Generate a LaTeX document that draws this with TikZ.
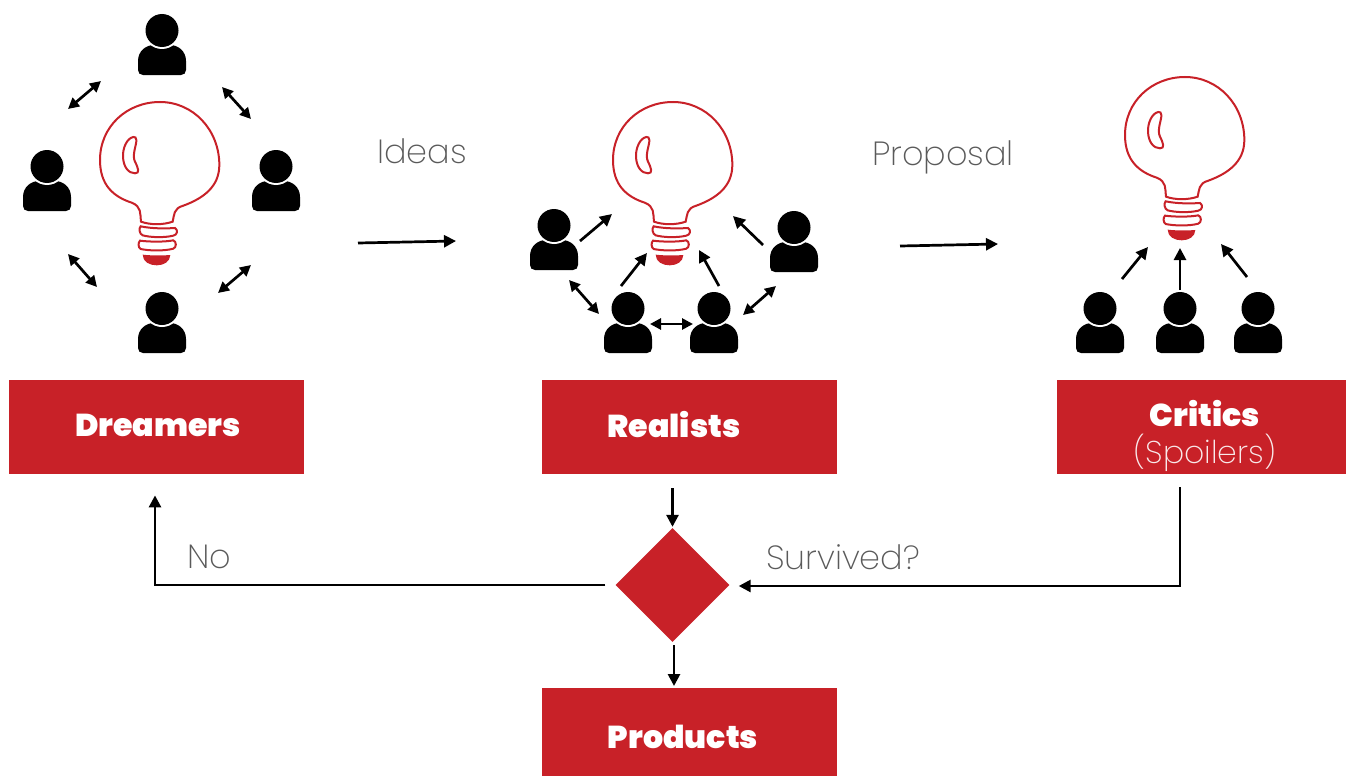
\documentclass[tikz,border=0pt]{standalone}
\usepackage{fontspec}
\usetikzlibrary{arrows.meta,shapes.geometric}
\newfontfamily\heavyfont{Poppins Black}
\newfontfamily\thinfont{Poppins ExtraLight}
\definecolor{brandred}{HTML}{C82128}
\definecolor{thingray}{HTML}{5A5A5A}
\tikzset{
  x=1pt,y=-1pt,
  redbox/.style={fill=brandred,draw=none,inner sep=0,minimum width=295pt,minimum height=94pt,anchor=north west},
  boxtitle/.style={text=white,font=\heavyfont\fontsize{31.6}{34}\selectfont,inner sep=0},
  boxsub/.style={text=white!90!brandred,font=\thinfont\fontsize{31.5}{34}\selectfont,inner sep=0},
  caption/.style={text=thingray,font=\thinfont\fontsize{33.5}{38}\selectfont,inner sep=0},
  flow/.style={draw=black,line width=2.7pt,-{Stealth[length=12pt,width=12pt,inset=0pt]}},
  both/.style={draw=black,line width=2.7pt,{Stealth[length=11pt,width=11pt,inset=0pt]}-{Stealth[length=11pt,width=11pt,inset=0pt]}},
  person/.pic={
    \fill[black] (-24,25) -- (-24,16) .. controls (-24,6) and (-16,0) .. (-8,0) -- (8,0)
      .. controls (16,0) and (24,6) .. (24,16) -- (24,25)
      .. controls (24,28) and (22,30) .. (19,30) -- (-19,30)
      .. controls (-22,30) and (-24,28) .. (-24,25) -- cycle;
    \fill[white] (0,-14.5) circle (18.5);
    \fill[black] (0,-14.5) circle (16.5);
  },
  bulb/.pic={
    \begin{scope}[scale=1/3,draw=brandred,line width=2pt]
    \draw (153,395) .. controls (150,370) and (155,350) .. (125,338)
      .. controls (70,320) and (30,285) .. (30,210)
      .. controls (30,110) and (110,36) .. (210,36)
      .. controls (310,36) and (388,120) .. (388,225)
      .. controls (388,290) and (340,325) .. (280,347)
      .. controls (250,355) and (253,375) .. (248,395)
      .. controls (220,405) and (180,405) .. (153,395) -- cycle;
    \draw (130,141) .. controls (110,145) and (98,175) .. (99,200)
      .. controls (100,230) and (115,250) .. (135,250)
      .. controls (150,250) and (145,235) .. (135,215)
      .. controls (125,195) and (140,165) .. (139,150)
      .. controls (139,143) and (135,140) .. (130,141) -- cycle;
    \draw (152,409) .. controls (185,416) and (225,416) .. (255,414)
      .. controls (265,420) and (262,435) .. (250,437)
      .. controls (220,444) and (180,442) .. (158,436)
      .. controls (148,432) and (146,415) .. (152,409) -- cycle;
    \draw (150,452) .. controls (180,456) and (225,456) .. (250,451)
      .. controls (260,455) and (260,472) .. (250,476)
      .. controls (220,484) and (175,482) .. (152,477)
      .. controls (144,472) and (144,458) .. (150,452) -- cycle;
    \fill[brandred] (158,494) .. controls (185,497) and (215,497) .. (241,495)
      .. controls (240,515) and (222,526) .. (200,526)
      .. controls (178,526) and (158,515) .. (158,494) -- cycle;
    \end{scope}
  },
}
\newcommand{\arrow}[6]{\coordinate (#1s) at (#3,#4); \coordinate (#1e) at (#5,#6); \draw[#2] (#1s) -- (#1e);}
\begin{document}
\begin{tikzpicture}
\useasboundingbox (0,0) rectangle (1346,776);
\fill[white] (0,0) rectangle (1346,776);
% bulbs
\pic at (90,90) {bulb};
\pic at (603,90) {bulb};
\pic at (1115,65) {bulb};
% people
\foreach \px/\py in {162/45,47/181,276/181,162/323,
                     554/240,794/242,628/323,714/323,
                     1100/323,1180/323,1258/323}
  \pic at (\px,\py) {person};
% boxes
\node[redbox] (dreamers) at (9,380) {};
\node[redbox] (realists) at (542,380) {};
\node[redbox,minimum width=289pt] (critics) at (1057,380) {};
\node[redbox,minimum height=88pt] (products) at (542,688) {};
\node[diamond,fill=brandred,inner sep=0,minimum width=114pt,minimum height=114pt,aspect=1] (survive) at (672.5,585) {};
% titles
\node[boxtitle] (tdreamers) at (158,425.5) {Dreamers};
\node[boxtitle] (trealists) at (674,425) {Realists};
\node[boxtitle] (tcritics) at (1205,414) {Critics};
\node[boxsub] (tspoilers) at (1205,453) {(Spoilers)};
\node[boxtitle] (tproducts) at (683,737) {Products};
% captions
\node[caption] (ideas) at (422,151) {Ideas};
\node[caption] (proposal) at (943,157) {Proposal};
\node[caption] (survived) at (843,557) {Survived?};
\node[caption] (no) at (209,557) {No};
% dreamers' arrows
\arrow{a}{both}{68}{109}{101}{81}
\arrow{b}{both}{222}{87}{251}{119}
\arrow{c}{both}{68}{254}{97}{287}
\arrow{d}{both}{218}{293}{251}{265}
% main arrows
\arrow{e}{flow}{358}{243}{456}{241}
\arrow{f}{flow}{900}{246}{998}{244}
% realists' arrows
\arrow{g}{flow}{580}{241}{612}{214}
\arrow{h}{flow}{621}{286}{647}{253}
\arrow{i}{flow}{719}{286}{699}{250}
\arrow{j}{flow}{763}{245}{733}{216}
\arrow{k}{both}{569}{280}{599}{314}
\arrow{l}{both}{650}{324}{693}{324}
\arrow{m}{both}{743}{315}{776}{286}
% critics' arrows
\arrow{n}{flow}{1122}{279}{1148}{247}
\arrow{o}{flow}{1180}{290}{1180}{248}
\arrow{p}{flow}{1247}{277}{1221}{244}
% decision flow
\draw[flow,shorten <=14pt,shorten >=1pt] (realists.south -| survive.north) -- (survive.north);
\draw[flow,shorten <=3pt,shorten >=2pt] (survive.south -| 674,0) -- (products.north -| 674,0);
\draw[flow,shorten <=10pt,shorten >=21pt] (survive.west) -- (155,585) -- (dreamers.south -| 155,0);
\draw[flow,shorten <=13pt,shorten >=9pt] (critics.south -| 1180,0) -- (1180,586) -- (survive.east |- 0,586);
\end{tikzpicture}
\end{document}
